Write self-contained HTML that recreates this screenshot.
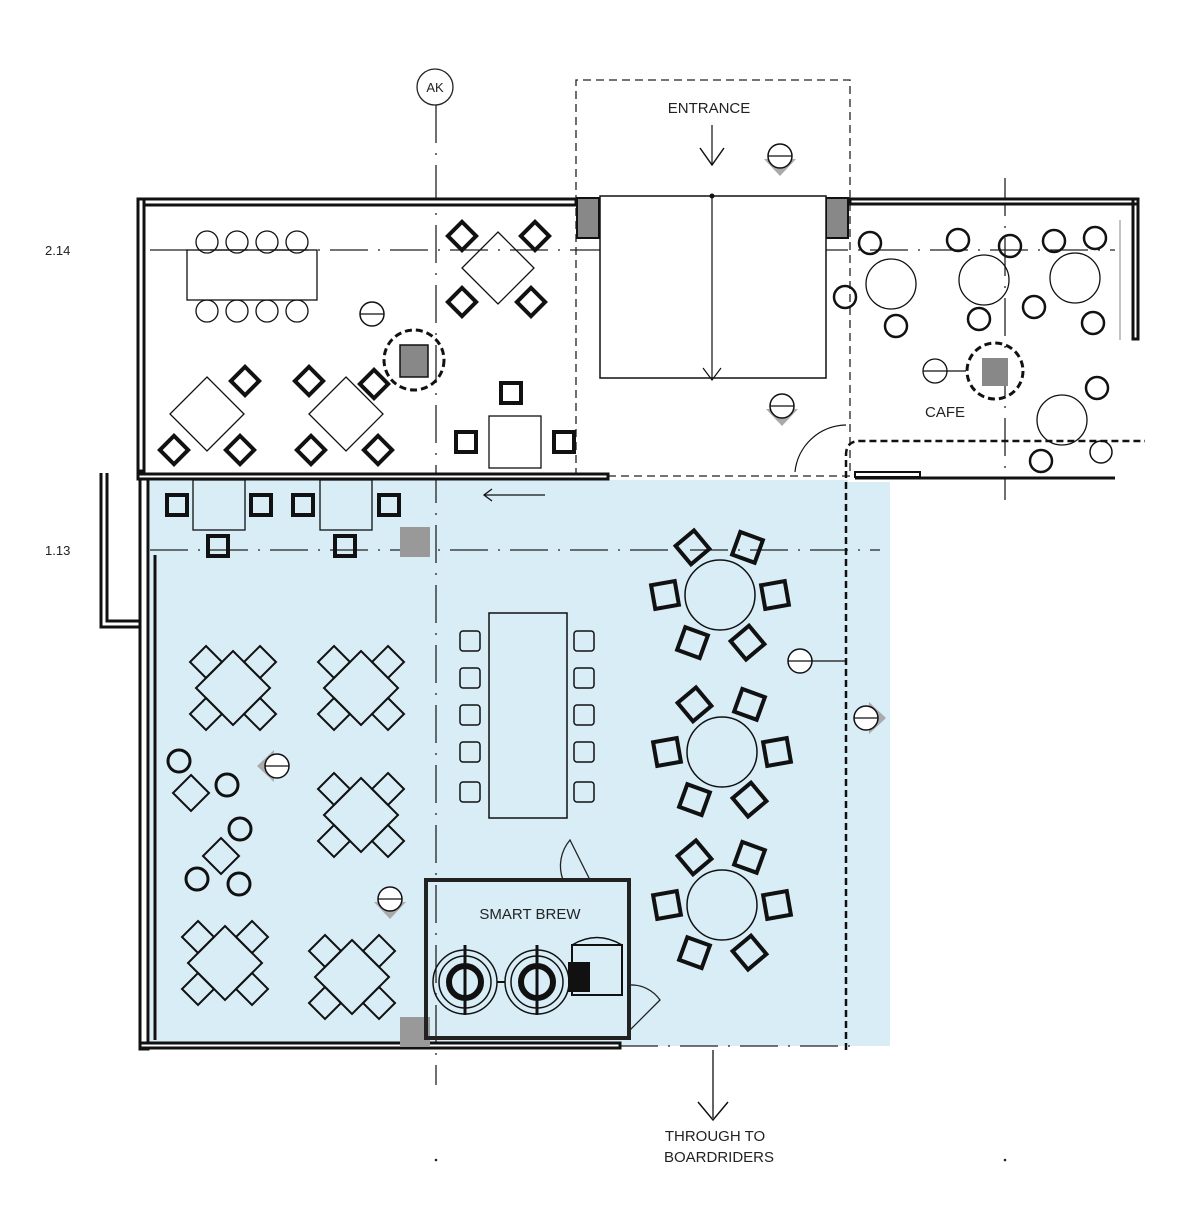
<!DOCTYPE html>
<html><head><meta charset="utf-8"><style>
html,body{margin:0;padding:0;background:#fff;}
svg{display:block;}
text{font-family:"Liberation Sans",sans-serif;}
</style></head><body>
<svg id="s" width="1200" height="1215" viewBox="0 0 1200 1215" xmlns="http://www.w3.org/2000/svg">
<rect x="0" y="0" width="1200" height="1215" fill="#fff"/>
<rect x="150" y="480" width="740" height="566" fill="#d9edf6"/>
<rect x="848" y="440" width="42" height="42" fill="#fff"/>
<g id="grid" stroke="#222" stroke-width="1.3" fill="none">
<line x1="150" y1="250" x2="1115" y2="250" stroke-dasharray="38,10,2,10"/>
<line x1="150" y1="550" x2="880" y2="550" stroke-dasharray="38,10,2,10"/>
<line x1="436" y1="105" x2="436" y2="1085" stroke-dasharray="38,10,2,10"/>
<line x1="1005" y1="178" x2="1005" y2="500" stroke-dasharray="38,10,2,10"/>
<line x1="140" y1="1046" x2="850" y2="1046" stroke-dasharray="38,10,2,10"/>
<circle cx="435" cy="87" r="18"/>
</g>
<circle cx="436" cy="1160" r="1.3" fill="#222"/><circle cx="1005" cy="1160" r="1.3" fill="#222"/>
<text x="435" y="92" font-size="13" text-anchor="middle" fill="#222">AK</text>
<text x="45" y="255" font-size="13" fill="#222">2.14</text>
<text x="45" y="555" font-size="13" fill="#222">1.13</text>
<path d="M576 476 V80 H850 V476 H576" fill="none" stroke="#222" stroke-width="1.3" stroke-dasharray="8,5"/>
<g fill="none" stroke="#111">
<rect x="138" y="199" width="438" height="6" stroke-width="3" fill="#fff"/>
<rect x="138" y="199" width="6" height="272" stroke-width="3" fill="#fff"/>
<rect x="850" y="199" width="288" height="5" stroke-width="3" fill="#fff"/>
<rect x="1133" y="199" width="5" height="140" stroke-width="3"/>
<line x1="1120" y1="220" x2="1120" y2="340" stroke="#888"/>
<rect x="138" y="474" width="470" height="5" stroke-width="3" fill="#fff"/>
<rect x="140" y="479" width="8" height="570" stroke-width="3" fill="#fff"/>
<line x1="155" y1="555" x2="155" y2="1040" stroke-width="3"/>
<rect x="140" y="1043" width="480" height="5" stroke-width="3" fill="#fff"/>
<path d="M101 473 V627 H140 M107 473 V621 H140" stroke-width="3"/>
<rect x="855" y="472" width="65" height="5" stroke-width="2"/>
<line x1="855" y1="478" x2="1115" y2="478" stroke-width="3"/>
</g>
<rect x="577" y="198" width="22" height="40" fill="#888" stroke="#111" stroke-width="2"/>
<rect x="826" y="198" width="22" height="40" fill="#888" stroke="#111" stroke-width="2"/>
<rect x="400" y="527" width="30" height="30" fill="#999"/>
<rect x="400" y="1017" width="30" height="30" fill="#999"/>
<rect x="600" y="196" width="226" height="182" fill="#fff" stroke="#111" stroke-width="1.5"/>
<line x1="712" y1="196" x2="712" y2="378" stroke="#111" stroke-width="1.2"/>
<path d="M703 368 L712 380 L721 368" fill="none" stroke="#111" stroke-width="1.2"/>
<circle cx="712" cy="196" r="2.5" fill="#111"/>
<text x="709" y="113" font-size="15" text-anchor="middle" fill="#222">ENTRANCE</text>
<line x1="712" y1="125" x2="712" y2="165" stroke="#111" stroke-width="1.2"/>
<path d="M700 148 L712 165 L724 148" fill="none" stroke="#111" stroke-width="1.5"/>
<path d="M846 1050 V455 Q846 441 860 441 H1145" fill="none" stroke="#111" stroke-width="2.5" stroke-dasharray="7,4"/>
<path d="M795 472 A52 52 0 0 1 846 425" fill="none" stroke="#111" stroke-width="1.2"/>
<text x="945" y="417" font-size="15" text-anchor="middle" fill="#222">CAFE</text>
<line x1="485" y1="495" x2="545" y2="495" stroke="#111" stroke-width="1.3"/>
<path d="M492 489 L484 495 L492 501" fill="none" stroke="#111" stroke-width="1.3"/>
<line x1="713" y1="1050" x2="713" y2="1118" stroke="#111" stroke-width="1.3"/>
<path d="M698 1102 L713 1120 L728 1102" fill="none" stroke="#111" stroke-width="1.5"/>
<text x="715" y="1141" font-size="15" text-anchor="middle" fill="#222">THROUGH TO</text>
<text x="719" y="1162" font-size="15" text-anchor="middle" fill="#222">BOARDRIDERS</text>
<rect x="426" y="880" width="203" height="158" fill="none" stroke="#222" stroke-width="4"/>
<text x="530" y="919" font-size="15" text-anchor="middle" fill="#222">SMART BREW</text>
<path d="M563 880 A40 40 0 0 1 570 840 L590 880" fill="none" stroke="#222" stroke-width="1.3"/>
<path d="M629 985 A35 35 0 0 1 660 1000 L630 1030" fill="none" stroke="#222" stroke-width="1.3"/>
<g id="furn"></g>
</svg>
<script>
var g=document.getElementById('furn'),NS='http://www.w3.org/2000/svg';
function el(t,a){var e=document.createElementNS(NS,t);for(var k in a)e.setAttribute(k,a[k]);g.appendChild(e);return e;}
function C(x,y,r,w,f){el('circle',{cx:x,cy:y,r:r,fill:f||'none',stroke:'#111','stroke-width':w||1.3});}
function D(x,y,h,w){el('path',{d:'M'+x+' '+(y-h)+' L'+(x+h)+' '+y+' L'+x+' '+(y+h)+' L'+(x-h)+' '+y+'Z',fill:'none',stroke:'#111','stroke-width':w||1.5});}
function R(x,y,w,h,sw){el('rect',{x:x,y:y,width:w,height:h,fill:'none',stroke:'#111','stroke-width':sw||1.3});}
function Ch(x,y,s,rot){el('rect',{x:x-s/2,y:y-s/2,width:s,height:s,fill:'none',stroke:'#111','stroke-width':4,transform:'rotate('+(rot||0)+' '+x+' '+y+')'});}
function Sym(x,y,dir){
 var p;
 if(dir=='d')p=[[x-16,y+3],[x+16,y+3],[x,y+20]];
 if(dir=='l')p=[[x-3,y-16],[x-3,y+16],[x-20,y]];
 if(dir=='r')p=[[x+3,y-16],[x+3,y+16],[x+20,y]];
 if(p)el('path',{d:'M'+p.join(' L')+'Z',fill:'#aaa'});
 el('circle',{cx:x,cy:y,r:12,fill:'#fff',stroke:'#111','stroke-width':1.5});
 el('line',{x1:x-12,y1:y,x2:x+12,y2:y,stroke:'#111','stroke-width':1.2});
}
R(187,250,130,50);
[207,237,267,297].forEach(function(x){C(x,242,11);C(x,311,11);});
Sym(372,314);
el('circle',{cx:414,cy:360,r:30,fill:'none',stroke:'#111','stroke-width':3,'stroke-dasharray':'7,4'});
el('rect',{x:400,y:345,width:28,height:32,fill:'#888',stroke:'#111','stroke-width':1.5});
D(207,414,37,1.3);D(346,414,37,1.3);
[[245,381],[174,450],[240,450],[309,381],[374,384],[311,450],[378,450],[462,236],[535,236],[462,302],[531,302]].forEach(function(p){Ch(p[0],p[1],20,45);});
D(498,268,36,1.3);
R(489,416,52,52);
[[511,393],[466,442],[564,442]].forEach(function(p){Ch(p[0],p[1],20,0);});
R(193,480,52,50);R(320,480,52,50);
[[177,505],[261,505],[303,505],[389,505],[218,546],[345,546]].forEach(function(p){Ch(p[0],p[1],20,0);});
[[233,688],[361,688],[361,815],[225,963],[352,977]].forEach(function(p){D(p[0],p[1],37,2);[[-27,-26],[27,-26],[-27,26],[27,26]].forEach(function(o){D(p[0]+o[0],p[1]+o[1],16,2);});});
[[179,761],[227,785],[240,829],[197,879],[239,884]].forEach(function(p){C(p[0],p[1],11,3);});
D(191,793,18,2);D(221,856,18,2);
Sym(277,766,'l');Sym(390,899,'d');
R(489,613,78,205,1.5);
[641,678,715,752,792].forEach(function(y){el('rect',{x:460,y:y-10,width:20,height:20,rx:3,fill:'none',stroke:'#111','stroke-width':1.5});el('rect',{x:574,y:y-10,width:20,height:20,rx:3,fill:'none',stroke:'#111','stroke-width':1.5});});
[[720,595],[722,752],[722,905]].forEach(function(c){C(c[0],c[1],35,1.5);[-120,-60,0,60,120,180].forEach(function(a){var rr=Math.PI*(a-30)/180;var x=c[0]+55*Math.cos(rr-Math.PI/2+Math.PI/3),y=c[1]+55*Math.sin(rr-Math.PI/2+Math.PI/3);Ch(x,y,24,a+20);});});
Sym(800,661);el('line',{x1:812,y1:661,x2:846,y2:661,stroke:'#111','stroke-width':1.3});
Sym(866,718,'r');
Sym(780,156,'d');Sym(782,406,'d');
[465,537].forEach(function(x){C(x,982,32,1.5);C(x,982,26,1.5);C(x,982,16,6);el('line',{x1:x,y1:945,x2:x,y2:1015,stroke:'#111','stroke-width':3});});
el('line',{x1:497,y1:982,x2:505,y2:982,stroke:'#111','stroke-width':2});
el('rect',{x:572,y:945,width:50,height:50,fill:'none',stroke:'#111','stroke-width':2});
el('rect',{x:568,y:962,width:22,height:30,fill:'#111'});
el('path',{d:'M572 945 Q597 930 622 945',fill:'none',stroke:'#111','stroke-width':1.5});
[[891,284],[984,280],[1075,278],[1062,420]].forEach(function(p){C(p[0],p[1],25,1.3);});
[[870,243],[958,240],[1010,246],[1054,241],[1095,238],[845,297],[896,326],[979,319],[1034,307],[1093,323],[1097,388],[1041,461]].forEach(function(p){C(p[0],p[1],11,2.5);});
C(935,371,12,1.3);el('line',{x1:923,y1:371,x2:966,y2:371,stroke:'#111','stroke-width':1.3});
el('circle',{cx:995,cy:371,r:28,fill:'none',stroke:'#111','stroke-width':3,'stroke-dasharray':'7,4'});
el('rect',{x:982,y:358,width:26,height:28,fill:'#888'});
C(1101,452,11,1.5);
</script>
</body></html>
